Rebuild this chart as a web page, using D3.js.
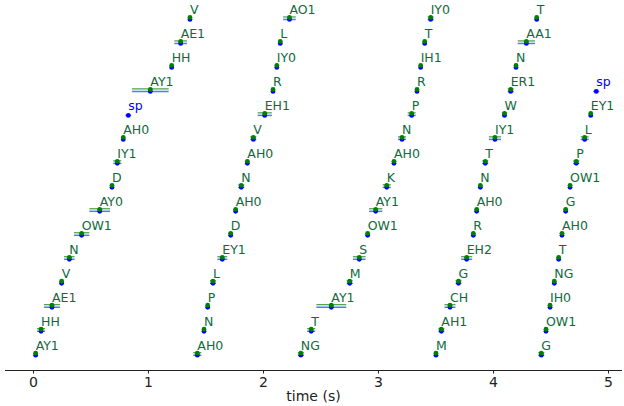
<!DOCTYPE html>
<html>
<head>
<meta charset="utf-8">
<script src="https://cdn.jsdelivr.net/npm/d3@7/dist/d3.min.js"></script>
<style>
  body { margin: 0; background: #fff; }
  svg { display: block; font-family: "DejaVu Sans", sans-serif; }
</style>
</head>
<body>
<svg id="chart" width="624" height="406"></svg>
<script>
// phone sequence, wraps every 15 rows
const phones = [
  'AY1','HH','AE1','V','N','OW1','AY0','D','IY1','AH0','sp','AY1','HH','AE1','V',
  'AH0','N','P','L','EY1','D','AH0','N','AH0','V','EH1','R','IY0','L','AO1',
  'NG','T','AY1','M','S','OW1','AY1','K','AH0','N','P','R','IH1','T','IY0',
  'M','AH1','CH','G','EH2','R','AH0','N','T','IY1','W','ER1','N','AA1','T',
  'G','OW1','IH0','NG','T','AH0','G','OW1','P','L','EY1','sp'
];
// centre time (s)
const times = [
  0.023,0.070,0.165,0.249,0.316,0.423,0.580,0.687,0.733,0.785,0.829,1.020,1.206,1.284,1.365,
  1.429,1.487,1.519,1.565,1.646,1.719,1.762,1.811,1.864,1.916,2.015,2.087,2.120,2.150,2.230,
  2.329,2.419,2.594,2.754,2.837,2.910,2.980,3.076,3.139,3.209,3.293,3.339,3.371,3.406,3.458,
  3.504,3.551,3.626,3.700,3.771,3.829,3.858,3.890,3.933,4.017,4.100,4.154,4.200,4.290,4.380,
  4.420,4.461,4.496,4.533,4.571,4.600,4.632,4.670,4.724,4.797,4.850,4.898
];
// half-width of the uncertainty bar (s)
const errs = [
  0.008,0.035,0.070,0.015,0.046,0.067,0.090,0.010,0.035,0.008,0.025,0.160,0.012,0.055,0.015,
  0.035,0.010,0.010,0.026,0.043,0.018,0.010,0.026,0.010,0.026,0.062,0.010,0.010,0.018,0.055,
  0.026,0.035,0.130,0.026,0.055,0.010,0.058,0.035,0.010,0.035,0.035,0.010,0.010,0.010,0.026,
  0.010,0.026,0.048,0.026,0.048,0.010,0.010,0.010,0.026,0.053,0.022,0.026,0.010,0.075,0.010,
  0.026,0.010,0.010,0.010,0.010,0.010,0.010,0.015,0.026,0.035,0.010,0.026
];
const xTicks = [0, 1, 2, 3, 4, 5];
const nRows = 15;

const svg = d3.select('#chart');
const x = d3.scaleLinear().domain([-0.2435, 5.1217]).range([5, 622]);
const y = d3.scaleLinear().domain([-0.7, 14.52]).range([370, 5]);

const data = phones.map((p, i) => ({
  phone: p, t: times[i], e: errs[i], row: i % nRows, sil: p === 'sp'
}));
const speech = data.filter(d => !d.sil);
const off = 2; // blue series sits a little lower

const g = svg.append('g');

// blue series (all phones incl. silence)
g.selectAll('line.blue').data(data).enter().append('line')
  .attr('x1', d => x(d.t - d.e))
  .attr('x2', d => x(d.t + d.e))
  .attr('y1', d => y(d.row) + off)
  .attr('y2', d => y(d.row) + off)
  .style('stroke', '#2a44ff')
  .style('stroke-opacity', 0.75)
  .style('stroke-width', 1.5);

// green series (no silence)
g.selectAll('line.green').data(speech).enter().append('line')
  .attr('x1', d => x(d.t - d.e))
  .attr('x2', d => x(d.t + d.e))
  .attr('y1', d => y(d.row) - 0.5)
  .attr('y2', d => y(d.row) - 0.5)
  .style('stroke', '#008000')
  .style('stroke-opacity', 0.9)
  .style('stroke-width', 1);

g.selectAll('circle.blue').data(data).enter().append('circle')
  .attr('cx', d => x(d.t))
  .attr('cy', d => y(d.row) + off)
  .attr('r', 2.4)
  .style('fill', '#0000ff');

g.selectAll('circle.green').data(speech).enter().append('circle')
  .attr('cx', d => x(d.t))
  .attr('cy', d => y(d.row))
  .attr('r', 2.4)
  .style('fill', '#008000');

g.selectAll('text.phone').data(data).enter().append('text')
  .attr('x', d => x(d.t))
  .attr('y', d => y(d.row) - 3.5)
  .style('font-size', '12.5px')
  .style('fill', d => d.sil ? '#0000ff' : '#0f6a3c')
  .text(d => d.phone);

// x axis, bottom spine only
const axis = svg.append('g')
  .attr('transform', `translate(0,${y(-0.7)})`)
  .call(d3.axisBottom(x).tickValues(xTicks).tickFormat(d3.format('d')).tickSize(3.5).tickPadding(3.5));
axis.select('.domain').attr('d', `M${x.range()[0]},0.5H${x.range()[1]}`).style('stroke', '#222');
axis.selectAll('.tick line').style('stroke', '#222');
axis.selectAll('.tick text').style('font-size', '14px').style('fill', '#222')
  .style('font-family', '"DejaVu Sans", sans-serif');

svg.append('text')
  .attr('x', (x.range()[0] + x.range()[1]) / 2)
  .attr('y', 401)
  .attr('text-anchor', 'middle')
  .style('font-size', '14px')
  .style('fill', '#222')
  .text('time (s)');
</script>
</body>
</html>
